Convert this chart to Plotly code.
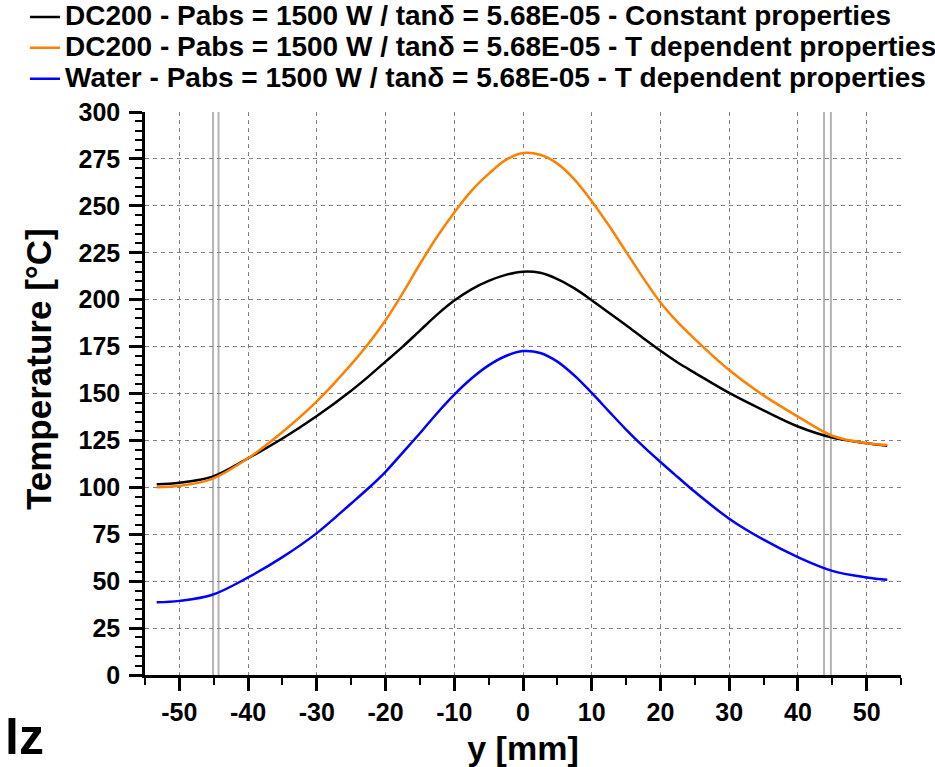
import plotly.graph_objects as go

# ---------------- data ----------------
y_mm = [-53.3, -50, -45.3, -40, -35, -30, -25, -22.5, -20, -17.5, -15, -12.5, -10, -7.5, -5, -2.5, 0,
        2.5, 5, 7.5, 10, 12.5, 15, 17.5, 20, 22.5, 25, 30, 35, 40, 45, 50, 53]
T_dc200_const = [101.7, 102.5, 105.6, 115.5, 126, 138, 151.5, 159, 167, 175, 183.5, 192, 199.5, 205.5, 210, 213.2, 214.9,
                 214.3, 211, 206, 199.7, 193, 186.4, 179.5, 172.8, 166.5, 161, 150.3, 141, 132.4, 126.5, 123.5, 122.2]
T_dc200_tdep = [100, 100.8, 104.4, 115.5, 129.5, 145.8, 165.5, 176.5, 189, 203.5, 219, 233.5, 246.5, 258, 267, 274.5, 278.2,
                277.2, 272.5, 264, 252.5, 239.5, 225.5, 211.5, 198.5, 188, 179, 162.5, 149, 137.7, 127.5, 123.5, 122.5]
T_water_tdep = [38.7, 39.5, 42.6, 52, 62.8, 75.6, 91.4, 99.5, 108.3, 118.5, 128.8, 139.5, 149.4, 158, 165, 170, 172.6,
                171.6, 167, 159.5, 150.3, 140.5, 130.8, 121.8, 113.5, 105.5, 97.6, 83.3, 72.1, 62.8, 55.5, 52, 50.7]

series_names = [
    "DC200 - Pabs = 1500 W / tanδ = 5.68E-05 - Constant properties",
    "DC200 - Pabs = 1500 W / tanδ = 5.68E-05 - T dependent properties",
    "Water - Pabs = 1500 W / tanδ = 5.68E-05 - T dependent properties",
]
series_colors = ["#000000", "#FF8000", "#0000FF"]
interface_positions = [-45.1, -44.3, 43.8, 44.8]
x_ticks = [-50, -40, -30, -20, -10, 0, 10, 20, 30, 40, 50]
y_ticks = [0, 25, 50, 75, 100, 125, 150, 175, 200, 225, 250, 275, 300]
x_range = [-55, 55]
y_range = [0, 300]

FONT = "Liberation Sans, Arial, sans-serif"

fig = go.Figure()
for name, vals, col in zip(series_names, [T_dc200_const, T_dc200_tdep, T_water_tdep], series_colors):
    fig.add_trace(go.Scatter(
        x=y_mm, y=vals, mode="lines",
        name='<span style="font-size:28px">' + name + "</span>",
        line=dict(color=col, width=2.5, shape="spline", smoothing=1.0),
    ))

for xv in interface_positions:
    fig.add_shape(type="line", xref="x", yref="paper", x0=xv, x1=xv, y0=0, y1=1,
                  line=dict(color="#b4b4b4", width=2), layer="between")

# stray text at bottom-left
fig.add_annotation(text="<b>lz</b>", xref="paper", yref="paper",
                   x=(46 - 145) / 756, xanchor="right", y=(675 - 737) / 563, yanchor="middle",
                   showarrow=False, font=dict(family=FONT, size=50, color="black"))

# y-axis title (placed slightly above centre, as in the reference)
fig.add_annotation(text="<b>Temperature [°C]</b>", xref="paper", yref="paper",
                   x=(38 - 145) / 756, xanchor="center", y=(675 - 369) / 563, yanchor="middle",
                   textangle=-90, showarrow=False, font=dict(family=FONT, size=35, color="black"))

axis_common = dict(
    showline=True, linewidth=2.5, linecolor="black",
    ticks="outside", ticklen=13, tickwidth=2.5, tickcolor="black",
    showgrid=True, gridcolor="#808080", gridwidth=1, griddash="4px,4px",
    zeroline=False,
    tickfont=dict(family=FONT, size=25, color="black", weight="bold"),
)

fig.update_xaxes(
    range=x_range, tickmode="array", tickvals=x_ticks, ticktext=[str(v) for v in x_ticks],
    minor=dict(tickmode="linear", tick0=0, dtick=5, ticks="outside", ticklen=7, tickwidth=2,
               tickcolor="black", showgrid=False),
    title=dict(text="y [mm]", font=dict(family=FONT, size=34, color="black", weight="bold"), standoff=16),
    **axis_common,
)
fig.update_yaxes(
    range=y_range, tickmode="array", tickvals=y_ticks, ticktext=[str(v) for v in y_ticks],
    minor=dict(tickmode="linear", tick0=0, dtick=5, ticks="outside", ticklen=7, tickwidth=2,
               tickcolor="black", showgrid=False),
    ticklabelstandoff=4,
    **axis_common,
)

fig.update_layout(
    width=935, height=767,
    margin=dict(l=145, r=34, t=112, b=92, autoexpand=False),
    paper_bgcolor="white", plot_bgcolor="white",
    font=dict(family=FONT, color="black"),
    legend=dict(x=(25 - 145) / 756, xanchor="left", y=1 + (112 + 3.4) / 563, yanchor="top",
                font=dict(family=FONT, size=21.4, color="black", weight="bold"),
                bgcolor="rgba(0,0,0,0)", borderwidth=0),
    showlegend=True,
)

fig.write_html("out.html")
